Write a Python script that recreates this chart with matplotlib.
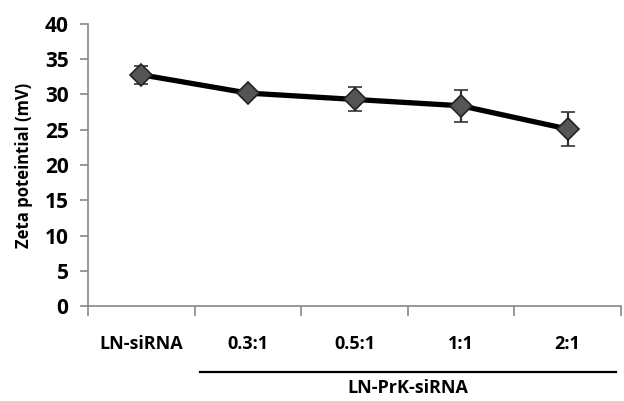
import matplotlib.pyplot as plt
import matplotlib.transforms as mtransforms

categories = ["LN-siRNA", "0.3:1", "0.5:1", "1:1", "2:1"]
zeta = [32.8, 30.2, 29.3, 28.4, 25.1]
zeta_err = [1.3, 0.6, 1.7, 2.3, 2.4]
group_label = "LN-PrK-siRNA"

plt.rcParams['font.family'] = ['Open Sans', 'DejaVu Sans']
plt.rcParams['font.weight'] = 'bold'

fig = plt.figure(figsize=(6.24, 4.01), dpi=100)
ax = fig.add_axes([88 / 624, 1 - 306 / 401, 533 / 624, 282 / 401])

x = list(range(len(categories)))
ax.errorbar(x, zeta, yerr=zeta_err, color='black', lw=3.8, marker='D', ms=11,
            mfc='#555555', mec='#222222', mew=1.2,
            ecolor='#333333', elinewidth=1.6, capsize=5, capthick=1.6, zorder=3)

ax.set_xlim(-0.5, len(categories) - 0.5)
ax.set_ylim(0, 40)
ax.set_yticks(range(0, 41, 5))
ax.set_yticklabels([str(v) for v in range(0, 41, 5)], fontsize=15, fontweight='bold')
ax.set_xticks(x)
ax.set_xticklabels(categories, fontsize=13, fontweight='bold')
ax.set_xticks([i - 0.5 for i in range(len(categories) + 1)], minor=True)
ax.tick_params(axis='x', which='major', length=0, pad=21)
ax.tick_params(axis='x', which='minor', length=7, color='#888888', width=1.2)
ax.tick_params(axis='y', length=6, color='#888888', width=1.2, pad=8)
ax.set_ylabel("Zeta poteintial (mV)", fontsize=12, fontweight='bold', labelpad=8)

for s in ['top', 'right']:
    ax.spines[s].set_visible(False)
for s in ['left', 'bottom']:
    ax.spines[s].set_color('#888888')
    ax.spines[s].set_linewidth(1.2)

trans = mtransforms.blended_transform_factory(ax.transData, ax.transAxes)
ax.plot([0.55, 4.45], [-0.234, -0.234], color='black', lw=1.6, transform=trans, clip_on=False)
ax.text(2.5, -0.292, group_label, transform=trans, ha='center', va='center',
        fontsize=13, fontweight='bold')

fig.savefig("out.png", dpi=100)
